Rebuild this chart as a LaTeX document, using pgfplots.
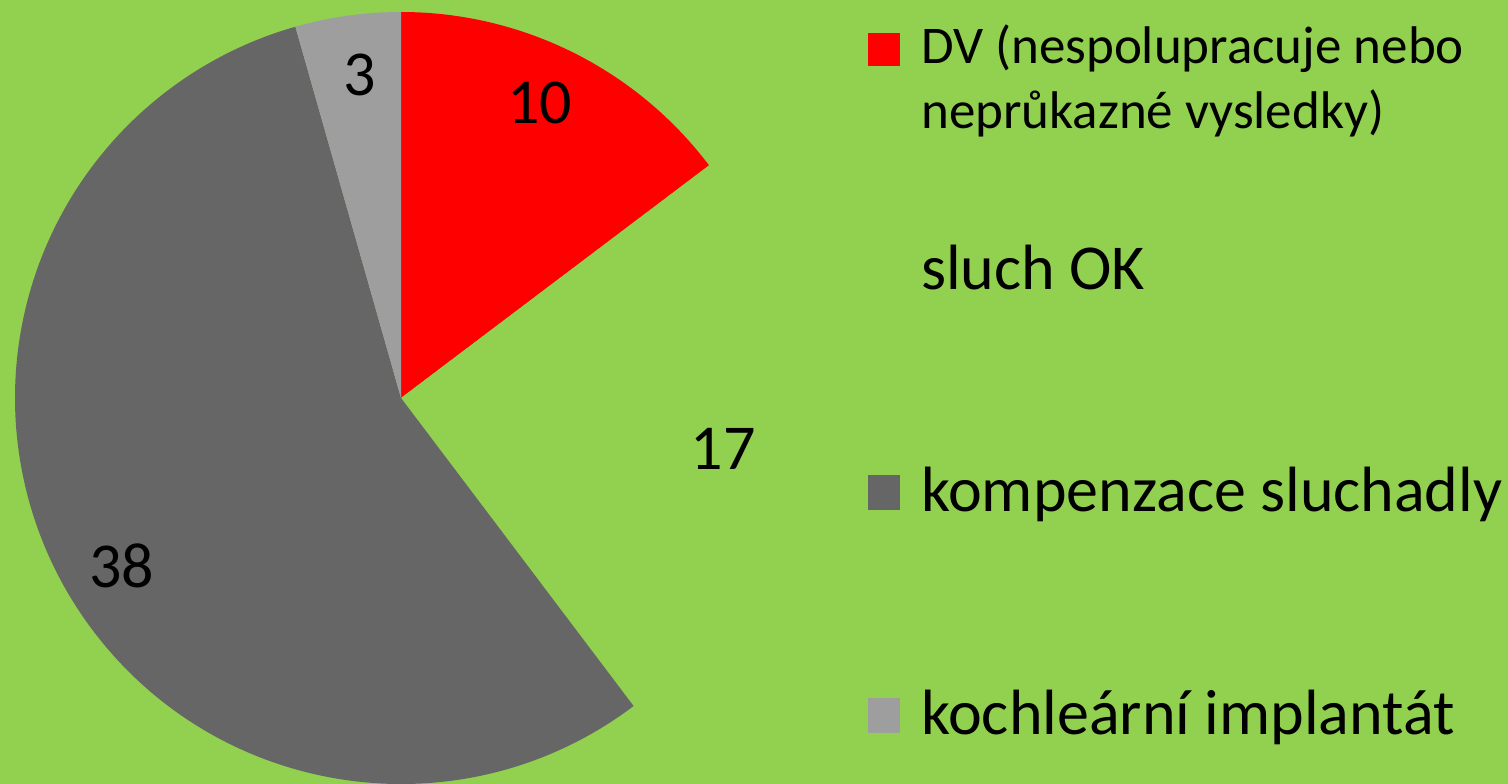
\documentclass[border=0pt]{standalone}
\usepackage{pgfplots}
\pgfplotsset{compat=1.18}
\usepackage{pgfplotstable}
\usepackage{fontspec}
\setmainfont{Carlito}

\definecolor{bgGreen}{HTML}{92D050}
\definecolor{dvRed}{HTML}{FF0000}
\definecolor{darkGray}{HTML}{666666}
\definecolor{lightGray}{HTML}{9E9E9E}

% slices, clockwise from 12 o'clock; dang nudges the value label
\pgfplotstableread[col sep=comma]{
label,value,color,dang
DV,10,dvRed,1.3
OK,17,bgGreen,-1
kompenzace,38,darkGray,4.5
kochlear,3,lightGray,-0.6
}\piedata

\newcommand\pcx{401}
\newcommand\pcy{386}
\newcommand\pR{386}

\begin{document}
\begin{tikzpicture}
\fill[bgGreen] (0,0) rectangle (1508pt,784pt);
\useasboundingbox (0,0) rectangle (1508pt,784pt);

% total and slice angles from the table
\pgfplotstablegetrowsof{\piedata}
\pgfmathtruncatemacro\nrows{\pgfplotsretval-1}
\xdef\total{0}
\foreach \i in {0,...,\nrows}{%
  \pgfplotstablegetelem{\i}{value}\of\piedata
  \pgfmathsetmacro\t{\total+\pgfplotsretval}\xdef\total{\t}}
\xdef\cur{90}
\foreach \i in {0,...,\nrows}{%
  \pgfplotstablegetelem{\i}{value}\of\piedata \let\v\pgfplotsretval
  \pgfplotstablegetelem{\i}{color}\of\piedata \let\c\pgfplotsretval
  \pgfplotstablegetelem{\i}{dang}\of\piedata \let\d\pgfplotsretval
  \pgfmathsetmacro\a{\cur}
  \pgfmathsetmacro\b{\cur-360*\v/\total}
  \pgfmathsetmacro\m{(\a+\b)/2+\d}
  \expandafter\xdef\csname pieA\i\endcsname{\a}
  \expandafter\xdef\csname pieB\i\endcsname{\b}
  \expandafter\xdef\csname pieM\i\endcsname{\m}
  \expandafter\xdef\csname pieV\i\endcsname{\v}
  \expandafter\xdef\csname pieC\i\endcsname{\c}
  \xdef\cur{\b}}

\begin{axis}[
    at={(0,0)}, anchor=origin,
    x=1pt, y=1pt,
    xmin=0, xmax=1508, ymin=0, ymax=784,
    hide axis, clip=false,
]
\pgfplotsinvokeforeach{0,...,3}{
  \fill[\csname pieC#1\endcsname] (axis cs:\pcx,\pcy) -- ++(\csname pieA#1\endcsname:\pR pt)
    arc[start angle=\csname pieA#1\endcsname, end angle=\csname pieB#1\endcsname, radius=\pR pt] -- cycle;
}
\pgfplotsinvokeforeach{0,...,3}{
  \path (axis cs:\pcx,\pcy) ++(\csname pieM#1\endcsname:326pt)
    node[font=\fontsize{64}{76}\selectfont] {\csname pieV#1\endcsname};
}

% legend
\fill[dvRed] (axis cs:868,718) rectangle (axis cs:900,751);
\fill[darkGray] (axis cs:868,274) rectangle (axis cs:900,309);
\fill[lightGray] (axis cs:868,51) rectangle (axis cs:900,86);
\node[anchor=base west, inner sep=0pt, font=\fontsize{53}{64}\selectfont] at (axis cs:921,720) {DV (nespolupracuje nebo};
\node[anchor=base west, inner sep=0pt, font=\fontsize{53}{64}\selectfont] at (axis cs:921,655) {neprůkazné vysledky)};
\node[anchor=base west, inner sep=0pt, font=\fontsize{64}{76}\selectfont] at (axis cs:921,494) {sluch OK};
\node[anchor=base west, inner sep=0pt, font=\fontsize{64}{76}\selectfont] at (axis cs:921,272) {kompenzace sluchadly};
\node[anchor=base west, inner sep=0pt, font=\fontsize{64}{76}\selectfont] at (axis cs:921,49) {kochleární implantát};
\end{axis}
\end{tikzpicture}
\end{document}
